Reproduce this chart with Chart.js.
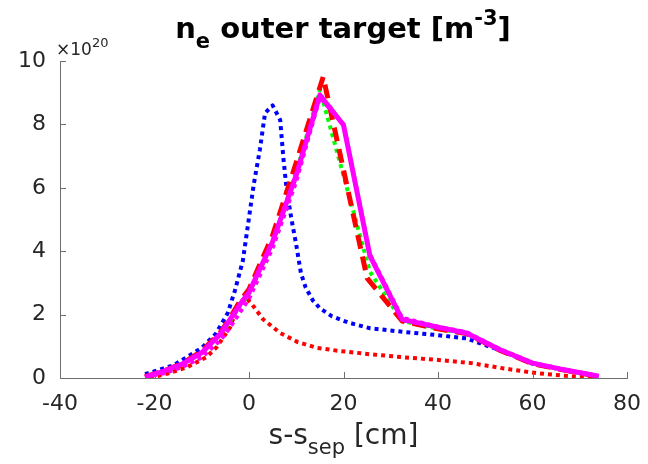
<!DOCTYPE html>
<html>
<head>
<meta charset="utf-8">
<script src="https://cdn.jsdelivr.net/npm/chart.js@4/dist/chart.umd.min.js"></script>
<style>
    html, body { margin: 0; padding: 0; background: #fff; }
    #wrap { width: 648px; height: 464px; position: relative; }
</style>
</head>
<body>
<div id="wrap"><canvas id="chart" width="648" height="464"></canvas></div>
<script>
// tick values
const xTicks = [-40, -20, 0, 20, 40, 60, 80];
const yTicks = [0, 2, 4, 6, 8, 10];

// shared positions (cm) for the target-profile runs; null = no sample there
const mainX = [-22, -18, -14, -10, -6, -4, -2, 0, 5, 10, 15, 20, 25.6, 32.4, 40, 46, 53, 60, 67, 74];
const magentaSolid = [0.03, 0.22, 0.45, 0.8, 1.4, 1.85, 2.3, 2.7, 4.3, 6.4, 8.93, 7.98, 3.85, 1.85, 1.6, 1.42, 0.9, 0.47, 0.25, 0.06];
const blueSolid = [0.05, 0.22, 0.47, 0.82, 1.42, 1.85, 2.3, 2.7, 4.3, 6.4, 8.9, 8.02, 3.85, 1.8, 1.55, 1.38, 0.88, 0.45, 0.24, 0.05];
const greenDotted = [0.03, 0.2, 0.43, 0.78, 1.38, 1.8, 2.25, 2.65, 4.3, 6.5, 9.1, null, 3.35, 1.8, 1.55, 1.4, 0.88, 0.45, 0.24, 0.05];
const magentaDotted = [0.02, 0.15, 0.35, 0.65, 1.2, 1.6, 2.05, 2.5, 4.1, 6.2, 8.85, 8.0, 3.9, 1.9, 1.62, 1.45, 0.92, 0.48, 0.26, 0.06];

// red dashed run (peak a little further out)
const redDashX = [-22, -18, -14, -10, -6, -4, -2, 0, 5, 10, 15.7, 25, 32.4, 40, 46, 53, 60, 67, 74];
const redDashY = [0.04, 0.22, 0.47, 0.85, 1.45, 1.9, 2.4, 2.8, 4.5, 6.8, 9.5, 3.15, 1.8, 1.55, 1.4, 0.88, 0.45, 0.24, 0.05];

// blue dotted run (peak shifted towards the separatrix)
const blueDotX = [-22, -16, -10, -7, -4.5, -3, -1.3, 1, 2.3, 3.4, 5, 6.6, 7.3, 8, 9, 10, 11, 12, 13.5, 15, 17.5, 21, 25.6, 33, 40, 46, 53, 60, 67, 74];
const blueDotY = [0.12, 0.4, 0.95, 1.4, 2.05, 2.75, 3.7, 6.1, 7.2, 8.36, 8.6, 8.14, 6.9, 5.9, 5.0, 4.2, 3.3, 2.85, 2.45, 2.2, 1.95, 1.75, 1.57, 1.45, 1.35, 1.25, 0.88, 0.45, 0.24, 0.05];

// red dotted run (low, detached profile)
const redDotX = [-21, -17, -13, -9, -6.8, -4, -2.3, -0.8, 0.5, 3, 6.6, 10.2, 14.4, 19.3, 25.6, 33, 40, 47, 54, 61, 67, 73];
const redDotY = [0.0, 0.15, 0.35, 0.66, 0.98, 1.6, 2.3, 2.55, 2.35, 1.85, 1.42, 1.14, 0.95, 0.85, 0.75, 0.65, 0.57, 0.47, 0.3, 0.15, 0.07, 0.02];

const AXIS_COLOR = '#6e6e6e';
const TEXT_COLOR = '#262626';
const FONT = '"DejaVu Sans", sans-serif';

function pts(xs, ys) {
    return xs.map((x, i) => ({ x: x, y: ys[i] }));
}

function line(label, data, color, width, dash) {
    return {
        label: label,
        data: data,
        borderColor: color,
        backgroundColor: color,
        borderWidth: width,
        borderDash: dash || [],
        borderCapStyle: 'butt',
        borderJoinStyle: 'round',
        pointRadius: 0,
        fill: false,
        spanGaps: true,
        tension: 0,
    };
}

// draws title, axis label, exponent and inward ticks
const decorations = {
    id: 'decorations',
    afterDraw(chart) {
        const ctx = chart.ctx;
        const xs = chart.scales.x;
        const ys = chart.scales.y;
        ctx.save();

        // inward tick marks
        ctx.strokeStyle = AXIS_COLOR;
        ctx.lineWidth = 1;
        ctx.beginPath();
        xTicks.forEach((v) => {
            const px = Math.round(xs.getPixelForValue(v)) + 0.5;
            ctx.moveTo(px, ys.bottom);
            ctx.lineTo(px, ys.bottom - 6);
        });
        yTicks.forEach((v) => {
            const py = Math.round(ys.getPixelForValue(v)) + 0.5;
            ctx.moveTo(xs.left, py);
            ctx.lineTo(xs.left + 6, py);
        });
        ctx.stroke();

        // title with sub/superscript
        ctx.fillStyle = '#000';
        ctx.textBaseline = 'alphabetic';
        ctx.textAlign = 'left';
        const big = 'bold 29px ' + FONT;
        const small = 'bold 21px ' + FONT;
        drawRun(ctx, [
            { t: 'n', f: big, dy: 0 },
            { t: 'e', f: small, dy: 10 },
            { t: ' outer target [m', f: big, dy: 0 },
            { t: '-3', f: small, dy: -13 },
            { t: ']', f: big, dy: 0 },
        ], 343, 38);

        // x axis label
        ctx.fillStyle = TEXT_COLOR;
        const lab = '28px ' + FONT;
        const labSmall = '21px ' + FONT;
        drawRun(ctx, [
            { t: 's-s', f: lab, dy: 0 },
            { t: 'sep', f: labSmall, dy: 10 },
            { t: ' [cm]', f: lab, dy: 0 },
        ], (xs.left + xs.right) / 2, 444);

        // exponent label
        ctx.font = '17px ' + FONT;
        ctx.fillText('\u00d710', 56, 55);
        const w = ctx.measureText('\u00d710').width;
        ctx.font = '13px ' + FONT;
        ctx.fillText('20', 56 + w, 47);

        ctx.restore();
    },
};

function drawRun(ctx, parts, cx, baseline) {
    let total = 0;
    parts.forEach((p) => {
        ctx.font = p.f;
        p.w = ctx.measureText(p.t).width;
        total += p.w;
    });
    let x = cx - total / 2;
    parts.forEach((p) => {
        ctx.font = p.f;
        ctx.fillText(p.t, x, baseline + p.dy);
        x += p.w;
    });
}

const series = [
    line('blue dotted', pts(blueDotX, blueDotY), '#0000ff', 4, [4, 4]),
    line('red dotted', pts(redDotX, redDotY), '#ff0000', 4, [4, 4]),
    line('blue solid', pts(mainX, blueSolid), '#0000ff', 2),
    line('green dotted', pts(mainX, greenDotted), '#00ff00', 4, [4, 4]),
    line('red dashed', pts(redDashX, redDashY), '#ff0000', 5, [14, 8]),
    line('magenta solid', pts(mainX, magentaSolid), '#ff00ff', 5),
    line('magenta dotted', pts(mainX, magentaDotted), '#ff00ff', 4, [4, 4]),
];
// later series are drawn on top
series.forEach((d, i) => { d.order = series.length - i; });

new Chart(document.getElementById('chart'), {
    type: 'line',
    data: { datasets: series },
    options: {
        responsive: false,
        animation: false,
        layout: { padding: { top: 61, right: 21, left: 0, bottom: 0 } },
        plugins: {
            legend: { display: false },
            title: { display: false },
            tooltip: { enabled: false },
        },
        scales: {
            x: {
                type: 'linear',
                min: -40,
                max: 80,
                afterFit: (scale) => {
                    scale.height = 86;
                    scale.paddingLeft = 0;
                    scale.paddingRight = 0;
                },
                afterBuildTicks: (scale) => { scale.ticks = xTicks.map((v) => ({ value: v })); },
                grid: { display: false, drawTicks: false },
                border: { display: true, color: AXIS_COLOR, width: 1 },
                ticks: {
                    color: TEXT_COLOR,
                    font: { family: FONT, size: 22 },
                    padding: 13,
                    maxRotation: 0,
                },
            },
            y: {
                type: 'linear',
                min: 0,
                max: 10,
                afterFit: (scale) => {
                    scale.width = 60;
                    scale.paddingTop = 0;
                    scale.paddingBottom = 0;
                },
                afterBuildTicks: (scale) => { scale.ticks = yTicks.map((v) => ({ value: v })); },
                grid: { display: false, drawTicks: false },
                border: { display: true, color: AXIS_COLOR, width: 1 },
                ticks: {
                    color: TEXT_COLOR,
                    font: { family: FONT, size: 22 },
                    padding: 14,
                },
            },
        },
    },
    plugins: [decorations],
});
</script>
</body>
</html>
